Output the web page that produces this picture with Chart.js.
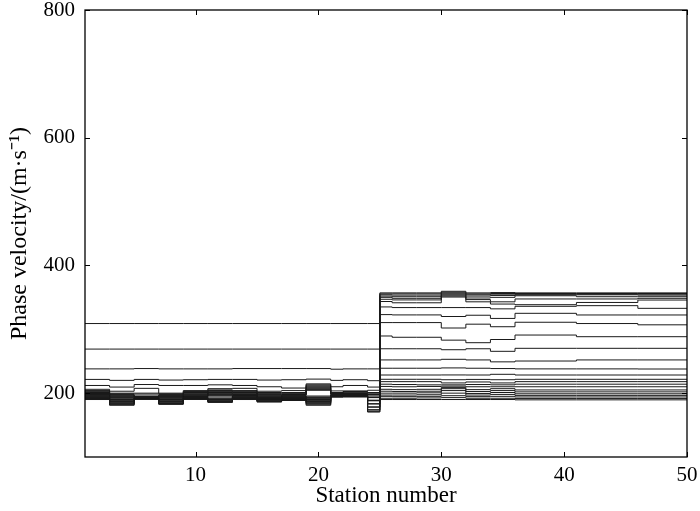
<!DOCTYPE html>
<html>
<head>
<meta charset="utf-8">
<script src="https://cdn.jsdelivr.net/npm/chart.js@4/dist/chart.umd.min.js"></script>
<style>
  html, body { margin: 0; padding: 0; background: #fff; }
  #wrap { width: 700px; height: 511px; }
</style>
</head>
<body>
<div id="wrap"><canvas id="c" width="700" height="511"></canvas></div>
<script>
// Station numbers where each constant segment starts (left block, right block), and the end station
const leftStarts = [1, 3, 5, 7, 9, 11, 13, 15, 17, 19, 21, 22, 24];
const rightStarts = [25, 26, 28, 30, 32, 34, 36, 41, 46];
const lastStation = 50;

// Phase velocity (m/s) of each curve (26 curves, fundamental first) in every left segment
const leftBands = [
  [309, 269, 238, 221.5, 212, 206, 204, 203, 202, 201, 200, 199.5, 199, 198, 197.5, 197, 196, 195.5, 195, 194, 193.5, 193, 192, 191.5, 191, 190],
  [309, 269, 238, 220, 209.5, 203, 200, 199, 198, 197, 196, 195, 194, 193, 192, 190.5, 190, 189, 188, 187, 186, 185, 184, 183, 182, 181],
  [309, 269, 238.5, 221.5, 213.5, 207.5, 200, 198.5, 195.5, 195, 194.5, 194, 193.7, 193.4, 193, 192.7, 192.4, 192, 191.8, 191.6, 191.4, 191.2, 191, 190.8, 190.6, 190.4],
  [309, 269, 238, 220.5, 212, 200, 199, 198, 197, 196, 195.5, 195, 194, 193, 192, 191, 190, 189, 188, 187, 186, 185, 184, 183.5, 183, 182.5],
  [309, 269, 238, 221, 212, 204, 202.5, 201, 200, 199, 198, 197, 196, 195.5, 195, 194.5, 194, 193.5, 193, 192.5, 192, 191.5, 191, 190.8, 190.5, 190.3],
  [309, 269, 238, 221.5, 213, 207, 205, 204, 203, 202, 201, 200, 199, 198, 197, 196, 194, 192, 191, 190, 189.5, 189, 188, 187, 186, 185.5],
  [309, 269, 238.5, 221.5, 212, 207.5, 204, 203, 202, 201, 200, 199, 198, 197.5, 197, 196.5, 196, 195.5, 195, 194, 193.5, 193, 192, 191.5, 191, 190],
  [309, 269, 238.5, 220.5, 210, 203, 201, 200, 199, 198, 197, 196, 195, 194, 193.5, 193, 192, 191.5, 191, 190, 189.5, 189, 188, 187.5, 187, 186],
  [309, 269, 238.5, 221, 208, 204, 201, 200, 199, 198, 197.5, 197, 196, 195.5, 195, 194, 193.5, 193, 192, 191.5, 191, 190.5, 190, 189.5, 189, 188.5],
  [309, 269, 238.5, 222, 214.5, 213, 211.5, 210, 208.5, 207, 205.5, 204.5, 195.5, 194, 193, 192, 191, 190, 189, 188, 187, 186, 185, 184, 182.5, 181],
  [309, 269, 237.5, 220, 210, 203.5, 201, 200, 199.5, 199, 198.5, 198, 197.5, 197, 196.5, 196, 195.8, 195.6, 195.4, 195.2, 195, 194.8, 194.6, 194.4, 194.2, 194],
  [309, 269, 238, 221, 212, 203.5, 202.5, 201.5, 200.5, 199.5, 199, 198.5, 198, 197.5, 197, 196.5, 196, 195.8, 195.6, 195.4, 195.2, 195, 194.8, 194.6, 194.4, 194.2],
  [309, 269, 238, 219.5, 209.5, 204.5, 201, 200.5, 200, 198, 197.5, 197, 194, 193.5, 193, 189, 188.5, 188, 183.5, 183, 178.5, 178, 174, 173.5, 171, 170.5]
];

// Phase velocity (m/s) of each curve in every right segment
const rightBands = [
  [357, 355.5, 354, 352, 350, 347, 343.5, 335, 323, 310.5, 289.5, 269.5, 252, 239, 228.4, 221.7, 218, 214, 210.5, 206, 203, 200, 197, 195, 192, 190],
  [357, 355.5, 353.5, 351, 348.5, 346, 341.5, 334, 322.5, 310.5, 287.5, 269.5, 252, 239, 228.4, 221.7, 218, 213.5, 210, 205.5, 202.5, 200, 197, 194.5, 192, 190],
  [357, 355.5, 353.5, 351, 348.5, 346, 341.5, 334, 322.5, 310.5, 287.5, 269.5, 252, 239, 228.4, 221.7, 218, 213, 210.5, 206, 203, 200.5, 197.5, 195, 192.5, 190],
  [359.5, 358, 356.5, 355, 353.5, 352, 350.5, 334, 320, 302, 283, 268, 253, 239.5, 228.5, 221, 216, 213, 211, 209, 207, 204, 200, 196, 193, 190],
  [357, 355.5, 354, 352, 349, 346.5, 343, 334, 322, 308, 279, 269.5, 252, 239, 228.4, 221.5, 217.5, 213.5, 210, 205.5, 202.5, 199.5, 197, 194.5, 192, 190],
  [357.5, 356, 355, 353, 350, 343, 339.5, 332, 317, 304, 284, 265.5, 249, 238.5, 229.5, 221, 216, 213, 210, 207, 204, 201, 198, 195, 192, 190],
  [357, 356, 355, 354, 352.5, 347.5, 338.5, 336, 325, 311, 291, 270.2, 250.3, 238, 228.4, 221.7, 218, 214, 210, 205, 202, 199, 196.5, 194, 191.5, 189.5],
  [357, 356, 355, 354, 351, 347.5, 342, 337, 322.4, 309, 288.4, 270.2, 252, 238, 228.4, 221.7, 218, 214, 210, 205, 202, 199, 196.5, 194, 191.5, 189.5],
  [357, 356, 355, 353.5, 351, 348.5, 345.8, 332.8, 322.4, 307, 288.4, 270.2, 252, 237.8, 228.4, 221.7, 218, 214, 210, 205, 202, 199, 196.5, 194, 191.5, 189.5]
];

const xTickValues = [10, 20, 30, 40, 50];
const yTickValues = [200, 400, 600, 800];
const xTitle = 'Station number';
const yTitle = 'Phase velocity/(m\u00B7s\u207B\u00B9)';

const nCurves = leftBands[0].length;
const datasets = [];
for (let k = 0; k < nCurves; k++) {
  const pts = [];
  leftStarts.forEach((x, j) => pts.push({ x: x, y: leftBands[j][k] }));
  rightStarts.forEach((x, j) => pts.push({ x: x, y: rightBands[j][k] }));
  pts.push({ x: lastStation, y: rightBands[rightBands.length - 1][k] });
  datasets.push({
    data: pts,
    stepped: 'before',
    borderColor: '#1a1a1a',
    borderWidth: 1,
    pointRadius: 0,
    fill: false
  });
}

const frame = {
  id: 'frame',
  afterDraw(chart) {
    const { ctx, chartArea: a, scales } = chart;
    ctx.save();
    ctx.strokeStyle = '#000';
    ctx.lineWidth = 1.3;
    ctx.strokeRect(a.left, a.top, a.right - a.left, a.bottom - a.top);
    ctx.lineWidth = 1;
    const L = 5;
    ctx.beginPath();
    xTickValues.forEach(v => {
      const px = Math.round(scales.x.getPixelForValue(v)) + 0.5;
      ctx.moveTo(px, a.bottom); ctx.lineTo(px, a.bottom - L);
      ctx.moveTo(px, a.top); ctx.lineTo(px, a.top + L);
    });
    yTickValues.forEach(v => {
      const py = Math.round(scales.y.getPixelForValue(v)) + 0.5;
      ctx.moveTo(a.left, py); ctx.lineTo(a.left + L, py);
      ctx.moveTo(a.right, py); ctx.lineTo(a.right - L, py);
    });
    ctx.stroke();
    ctx.restore();
  }
};

const serif = 'Liberation Serif, Times New Roman, serif';

new Chart(document.getElementById('c'), {
  type: 'line',
  data: { datasets },
  options: {
    responsive: false,
    animation: false,
    devicePixelRatio: 1,
    layout: { padding: { top: 10, right: 13, left: 0, bottom: 0 } },
    plugins: { legend: { display: false }, tooltip: { enabled: false } },
    scales: {
      x: {
        type: 'linear',
        min: 1,
        max: 50,
        afterBuildTicks: s => { s.ticks = xTickValues.map(v => ({ value: v })); },
        afterFit: s => { s.height = 54; s.paddingLeft = 0; s.paddingRight = 0; },
        grid: { display: false, drawTicks: false },
        border: { display: false },
        ticks: { color: '#000', font: { family: serif, size: 21 }, padding: 6, maxRotation: 0 },
        title: { display: true, text: xTitle, color: '#000', font: { family: serif, size: 23 }, padding: { top: 0, bottom: 1 } }
      },
      y: {
        type: 'linear',
        min: 100,
        max: 800,
        afterBuildTicks: s => { s.ticks = yTickValues.map(v => ({ value: v })); },
        afterFit: s => { s.width = 85; s.paddingTop = 0; s.paddingBottom = 0; },
        grid: { display: false, drawTicks: false },
        border: { display: false },
        ticks: { color: '#000', font: { family: serif, size: 21 }, padding: 10 },
        title: { display: true, text: yTitle, color: '#000', font: { family: serif, size: 24 }, padding: { top: 5, bottom: 0 } }
      }
    }
  },
  plugins: [frame]
});
</script>
</body>
</html>
